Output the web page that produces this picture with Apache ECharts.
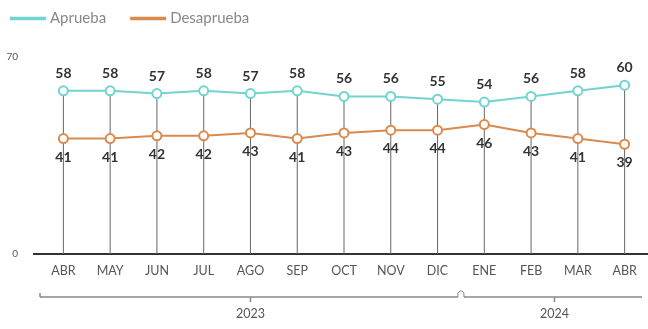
<!DOCTYPE html>
<html><head><meta charset="utf-8">
<script src="https://cdn.jsdelivr.net/npm/echarts@6/dist/echarts.min.js"></script>
<style>html,body{margin:0;padding:0;background:#fff}#c{width:648px;height:329px}</style>
</head><body><div id="c"></div>
<script>
const months = ['ABR','MAY','JUN','JUL','AGO','SEP','OCT','NOV','DIC','ENE','FEB','MAR','ABR '];
const aprueba = [58,58,57,58,57,58,56,56,55,54,56,58,60];
const desaprueba = [41,41,42,42,43,41,43,44,44,46,43,41,39];
const years = [{label:'2023', from:0, to:8}, {label:'2024', from:9, to:12}];
const yTicks = [0, 70];

const chart = echarts.init(document.getElementById('c'));
const FONT = 'Lato, "Open Sans", sans-serif';
const TEAL = '#72d4d0', ORANGE = '#d98a4e';
chart.setOption({
  animation:false,
  textStyle:{fontFamily:FONT},
  legend:{
    left:5, top:6, itemWidth:34, itemHeight:1.5, itemGap:24, icon:'rect',
    data:[{name:'Aprueba', itemStyle:{color:TEAL}},{name:'Desaprueba', itemStyle:{color:ORANGE}}],
    textStyle:{color:'#888', fontSize:15, fontFamily:FONT}
  },
  grid:{left:40, top:57, width:611, bottom:75},
  xAxis:{
    type:'category', data:months, boundaryGap:true,
    axisLine:{lineStyle:{color:'#333', width:2}},
    axisTick:{show:false},
    axisLabel:{color:'#555', fontSize:12.5, margin:10, fontFamily:FONT,
      formatter:v=>v.trim()}
  },
  yAxis:{
    type:'value', min:yTicks[0], max:yTicks[1], interval:70,
    splitLine:{show:false},
    axisLine:{show:false}, axisTick:{show:false},
    axisLabel:{color:'#555', fontSize:10, margin:22}
  },
  series:[
    {type:'bar', data:aprueba, barWidth:1, silent:true, z:1,
     itemStyle:{color:'#666'}},
    {name:'Aprueba', type:'line', data:aprueba, z:3,
     symbol:'circle', symbolSize:9,
     lineStyle:{color:TEAL, width:2},
     itemStyle:{color:'#fff', borderColor:TEAL, borderWidth:2},
     label:{show:true, position:'top', distance:5, color:'#333', fontWeight:'bold', fontSize:14, fontFamily:FONT}},
    {name:'Desaprueba', type:'line', data:desaprueba, z:3,
     symbol:'circle', symbolSize:9,
     lineStyle:{color:ORANGE, width:2},
     itemStyle:{color:'#fff', borderColor:ORANGE, borderWidth:2},
     label:{show:true, position:'bottom', distance:6, color:'#333', fontWeight:'bold', fontSize:14, fontFamily:FONT}}
  ]
});

// year brackets
const px = i => chart.convertToPixel({xAxisIndex:0}, i);
const y0 = chart.convertToPixel({yAxisIndex:0}, 0);
const band = px(1) - px(0);
const yb = 297;
const els = [];
const grey = '#888';
els.push({type:'line', shape:{x1:33, y1:y0, x2:41, y2:y0}, style:{stroke:'#333', lineWidth:2}});
years.forEach((y, k) => {
  const x0 = k === 0 ? px(y.from) - band/2 : px(y.from) - band/2 + 3;
  const x1 = k === years.length-1 ? px(y.to) + band/2 - 6 : px(y.to) + band/2 - 3;
  els.push({type:'line', shape:{x1:x0, y1:yb, x2:x1, y2:yb}, style:{stroke:grey, lineWidth:1.5}});
  if (k === 0) els.push({type:'line', shape:{x1:x0, y1:yb-4, x2:x0, y2:yb}, style:{stroke:grey, lineWidth:1.5}});
  const xm = (px(y.from) + px(y.to)) / 2;
  els.push({type:'line', shape:{x1:xm, y1:yb, x2:xm, y2:yb+5}, style:{stroke:grey, lineWidth:1.5}});
  els.push({type:'text', x:xm, y:yb+17, style:{text:y.label, fill:'#555', font:'12.5px '+FONT, align:'center', verticalAlign:'middle'}});
});
const xbk = px(years[0].to) + band/2;
els.push({type:'polyline', shape:{points:[[xbk-3,yb],[xbk-3,yb-4],[xbk-1,yb-6],[xbk+1,yb-6],[xbk+3,yb-4],[xbk+3,yb]]}, style:{stroke:grey, fill:'none', lineWidth:1}});
chart.setOption({graphic:{elements:els}});
</script></body></html>
